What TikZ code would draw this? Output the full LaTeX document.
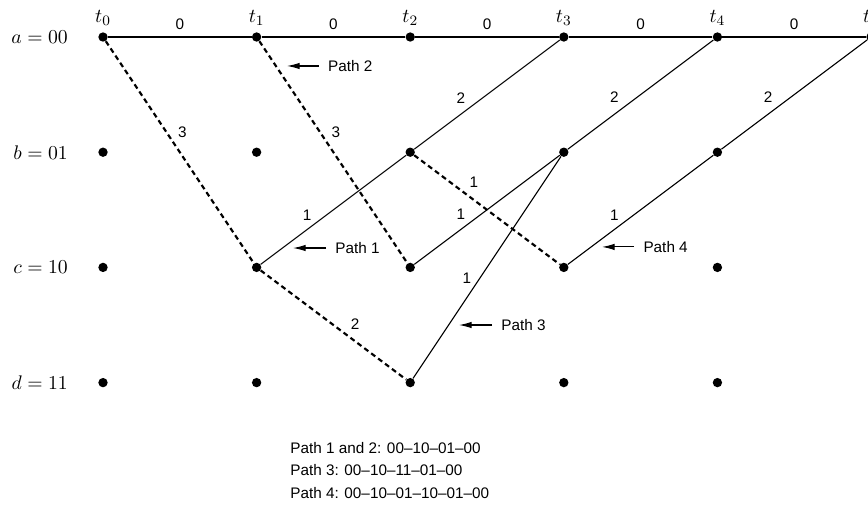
\documentclass[tikz,border=0pt]{standalone}
\usepackage{fontspec}
\newfontfamily\lblfont{Liberation Sans}
\usetikzlibrary{arrows.meta}

\begin{document}
\begin{tikzpicture}[
    dot/.style={circle, fill, inner sep=0pt, minimum size=5.2pt},
    trans/.style={line width=0.6pt},
    dead/.style={line width=1.2pt, dash pattern=on 2.8pt off 2pt},
    wt/.style={font=\lblfont\fontsize{8.5}{10}\selectfont, inner sep=1pt},
    rowlbl/.style={font=\fontsize{11}{13}\selectfont, inner sep=0pt, anchor=east},
    tlbl/.style={font=\fontsize{11}{13}\selectfont, inner sep=0pt},
    pathlbl/.style={font=\lblfont\fontsize{8.5}{10}\selectfont, inner sep=0pt, anchor=west},
    ptr/.style={-{Latex[length=7pt,width=3.6pt]}, line width=0.6pt, shorten <=5pt}]
  \useasboundingbox (-2.012,0.723) rectangle (14.941,-9.199);

  % trellis states
  \foreach \c in {0,...,4}
    \foreach \r/\y in {a/0,b/-2.25,c/-4.5,d/-6.75}
      \node[dot] (\r\c) at (3*\c,\y) {};
  \node[dot] (a5) at (15,0) {};
  \foreach \c in {0,...,5}
    \node[tlbl] (t\c) at (3*\c,0.37) {$t_{\c}$};

  \node[rowlbl] (la) at (-0.68,0) {$a=00$};
  \node[rowlbl] (lb) at (-0.68,-2.25) {$b=01$};
  \node[rowlbl] (lc) at (-0.68,-4.5) {$c=10$};
  \node[rowlbl] (ld) at (-0.68,-6.75) {$d=11$};

  % all-zero path
  \draw[trans] (a0) -- node[wt, above=2.9pt] {0} (a1);
  \draw[trans] (a1) -- node[wt, above=2.9pt] {0} (a2);
  \draw[trans] (a2) -- node[wt, above=2.9pt] {0} (a3);
  \draw[trans] (a3) -- node[wt, above=2.9pt] {0} (a4);
  \draw[trans] (a4) -- node[wt, above=2.9pt] {0} (a5);

  % discarded branches
  \draw[dead] (a0) -- node[wt, pos=0.41, right=4.8pt] {3} (c1);
  \draw[dead] (a1) -- node[wt, pos=0.41, right=4.8pt] {3} (c2);
  \draw[dead] (c1) -- node[wt, pos=0.65, above=4.8pt] {2} (d2);
  \draw[dead] (b2) -- node[wt, pos=0.41, above=5.2pt] {1} (c3);

  % surviving branches
  \draw[trans] (c1) -- node[wt, pos=0.32, above=3.7pt] {1} (b2);
  \draw[trans] (b2) -- node[wt, pos=0.32, above=4.8pt] {2} (a3);
  \draw[trans] (c2) -- node[wt, pos=0.32, above=4pt] {1} (b3);
  \draw[trans] (b3) -- node[wt, pos=0.32, above=5.2pt] {2} (a4);
  \draw[trans] (d2) -- node[wt, pos=0.45, left=3.4pt] {1} (b3);
  \draw[trans] (c3) -- node[wt, pos=0.32, above=3.7pt] {1} (b4);
  \draw[trans] (b4) -- node[wt, pos=0.32, above=5pt] {2} (a5);

  % path pointers
  \node[pathlbl] (p2) at (4.39,-0.566) {Path 2};
  \coordinate (p2tip) at (3.594,-0.566);
  \draw[ptr] (p2.west) -- (p2tip);
  \node[pathlbl] (p1) at (4.531,-4.121) {Path 1};
  \coordinate (p1tip) at (3.711,-4.121);
  \draw[ptr] (p1.west) -- (p1tip);
  \node[pathlbl] (p4) at (10.55,-4.10) {Path 4};
  \coordinate (p4tip) at (9.746,-4.10);
  \draw[ptr] (p4.west) -- (p4tip);
  \node[pathlbl] (p3) at (7.773,-5.625) {Path 3};
  \coordinate (p3tip) at (6.953,-5.625);
  \draw[ptr] (p3.west) -- (p3tip);

  \node[font=\lblfont\fontsize{8.5}{12.5}\selectfont, inner sep=0pt, align=left, anchor=north west] (summary) at (3.652,-7.91)
    {Path 1 and 2: 00–10–01–00\\ Path 3: 00–10–11–01–00\\ Path 4: 00–10–01–10–01–00};
\end{tikzpicture}
\end{document}
